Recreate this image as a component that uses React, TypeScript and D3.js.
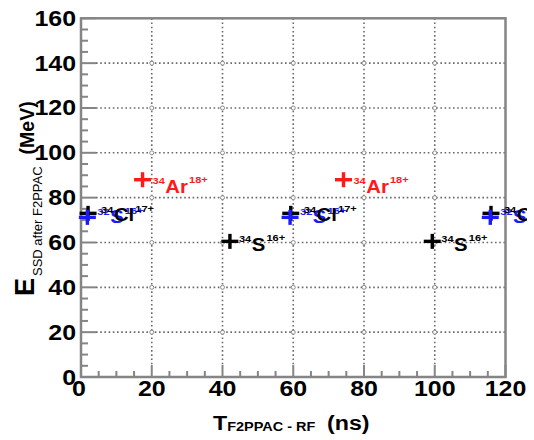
import React from "react";
import * as d3 from "d3";

// ---- data ----
const xTicks = [0, 20, 40, 60, 80, 100, 120];
const yTicks = [0, 20, 40, 60, 80, 100, 120, 140, 160];

const cl34X = [2.0, 59.3, 115.9];
const cl34Y = [73, 73, 73];
const s32X = [1.8, 59.1, 115.7];
const s32Y = [71.2, 71.2, 71.2];
const ar34X = [17.4, 74.2];
const ar34Y = [88, 88];
const s34X = [42.1, 99.3];
const s34Y = [60.5, 60.5];

const cl34Label = ["34", "Cl", "17+"];
const s32Label = ["32", "S", "16+"];
const ar34Label = ["34", "Ar", "18+"];
const s34Label = ["34", "S", "16+"];

// ---- layout ----
const W = 534;
const H = 440;
const L = 81;
const R = 505.5;
const T = 18.3;
const B = 377;
const STRETCH = 1.16;

const x = d3.scaleLinear().domain([0, 120]).range([L, R]);
const y = d3.scaleLinear().domain([0, 160]).range([B, T]);

type Series = {
  xs: number[];
  ys: number[];
  label: string[];
  color: string;
  dx: number;
  dy: number;
};

const markerSeries: Series[] = [
  { xs: cl34X, ys: cl34Y, label: cl34Label, color: "#000000", dx: 13, dy: 8 },
  { xs: s32X, ys: s32Y, label: s32Label, color: "#1a1aff", dx: 10, dy: 6 },
  { xs: ar34X, ys: ar34Y, label: ar34Label, color: "#ff1a1a", dx: 10, dy: 13 },
  { xs: s34X, ys: s34Y, label: s34Label, color: "#000000", dx: 9, dy: 9.5 },
];
// text drawing order: blue under black
const labelOrder = [1, 0, 2, 3];

const AXIS = "#858585";
const GRID = "#6a6a6a";
const FONT = "'Liberation Sans', Arial, Helvetica, sans-serif";

function Plus({ cx, cy, color }: { cx: number; cy: number; color: string }) {
  const ax = 8.5;
  const ay = 7.5;
  return (
    <g stroke={color} strokeWidth={3.4}>
      <line x1={cx - ax} x2={cx + ax} y1={cy} y2={cy} />
      <line x1={cx} x2={cx} y1={cy - ay} y2={cy + ay} />
    </g>
  );
}

function IonLabel({ px, py, parts, color }: { px: number; py: number; parts: string[]; color: string }) {
  return (
    <g transform={`translate(${px},${py}) scale(${STRETCH},1)`}>
      <text x={0} y={0} fill={color} fontFamily={FONT} fontWeight="bold">
        <tspan fontSize={9.5} dy={-8.5}>{parts[0]}</tspan>
        <tspan fontSize={17.5} dy={8.5} dx={0.5}>{parts[1]}</tspan>
        <tspan fontSize={9.5} dy={-9.5} dx={1}>{parts[2]}</tspan>
      </text>
    </g>
  );
}

export default function App() {
  const xMinor = d3.range(0, 121, 5).filter((v) => v % 20 !== 0);
  const yMinor = d3.range(0, 161, 5).filter((v) => v % 20 !== 0);
  const gridX = xTicks.filter((v) => v > 0 && v < 120);
  const gridY = yTicks.filter((v) => v > 0 && v < 160);

  return (
    <svg
      width={W}
      height={H}
      style={{ position: "absolute", left: 0, top: 0, background: "#fff" }}
    >
      <defs>
        <clipPath id="clipLabels">
          <rect x={0} y={0} width={527} height={H} />
        </clipPath>
      </defs>
      <rect x={0} y={0} width={W} height={H} fill="#fff" />

      {/* grid */}
      <g stroke={GRID} strokeWidth={1.6} strokeDasharray="1.6 2.6" fill="none">
        {gridY.map((v) => (
          <line key={"gy" + v} x1={L + 15} x2={R} y1={y(v)} y2={y(v)} />
        ))}
        {gridX.map((v) => (
          <line key={"gx" + v} x1={x(v)} x2={x(v)} y1={T} y2={B - 12} />
        ))}
      </g>
      <g stroke="#8a8a8a" strokeWidth={1} fill="#fff">
        {gridX.map((gx) =>
          gridY.map((gy) => <circle key={gx + "_" + gy} cx={x(gx)} cy={y(gy)} r={2} />)
        )}
      </g>

      {/* ticks */}
      <g stroke={AXIS} strokeWidth={2}>
        {yTicks.map((v) => (
          <line key={"yt" + v} x1={L} x2={L + 15} y1={y(v)} y2={y(v)} />
        ))}
        {yMinor.map((v) => (
          <line key={"ym" + v} x1={L} x2={L + 7} y1={y(v)} y2={y(v)} />
        ))}
        {xTicks.map((v) => (
          <line key={"xt" + v} x1={x(v)} x2={x(v)} y1={B} y2={B - 12} />
        ))}
        {xMinor.map((v) => (
          <line key={"xm" + v} x1={x(v)} x2={x(v)} y1={B} y2={B - 6} />
        ))}
      </g>

      {/* frame */}
      <rect x={L} y={T} width={R - L} height={B - T} fill="none" stroke={AXIS} strokeWidth={2.5} />

      {/* markers */}
      {markerSeries.map((s, si) =>
        s.xs.map((xv, i) => (
          <Plus key={si + "_" + i} cx={x(xv)} cy={y(s.ys[i])} color={s.color} />
        ))
      )}

      {/* labels */}
      <g clipPath="url(#clipLabels)">
        {labelOrder.map((si) => {
          const s = markerSeries[si];
          return s.xs.map((xv, i) => (
            <IonLabel
              key={"lab" + si + "_" + i}
              px={x(xv) + s.dx}
              py={y(s.ys[i]) + s.dy}
              parts={s.label}
              color={s.color}
            />
          ));
        })}
      </g>

      {/* y tick labels */}
      {yTicks.map((v) => (
        <g key={"yl" + v} transform={`translate(${L - 5},${y(v) + 7.5}) scale(${STRETCH},1)`}>
          <text textAnchor="end" fontFamily={FONT} fontWeight="bold" fontSize={21.5} fill="#000">
            {v}
          </text>
        </g>
      ))}
      {/* x tick labels */}
      {xTicks.map((v) => (
        <g key={"xl" + v} transform={`translate(${x(v) - (v === 0 ? 2 : 0)},${B + 19}) scale(${STRETCH},1)`}>
          <text textAnchor="middle" fontFamily={FONT} fontWeight="bold" fontSize={21.5} fill="#000">
            {v}
          </text>
        </g>
      ))}

      {/* x title */}
      <g transform={`translate(${(L + R) / 2 - 2},430) scale(${STRETCH},1)`}>
        <text textAnchor="middle" fontFamily={FONT} fontWeight="bold" fill="#000">
          <tspan fontSize={20}>T</tspan>
          <tspan fontSize={12.5} dy={1}>F2PPAC - RF</tspan>
          <tspan fontSize={20} dy={-1} dx={10}>(ns)</tspan>
        </text>
      </g>

      {/* y title */}
      <g transform={`translate(34,296) rotate(-90)`}>
        <text textAnchor="start" fontFamily={FONT} fill="#000">
          <tspan fontSize={27} fontWeight="bold">E</tspan>
          <tspan fontSize={13} dy={8} dx={2}>SSD after F2PPAC</tspan>
          <tspan fontSize={19.5} fontWeight="bold" dy={-8} dx={12}>(MeV)</tspan>
        </text>
      </g>
    </svg>
  );
}
